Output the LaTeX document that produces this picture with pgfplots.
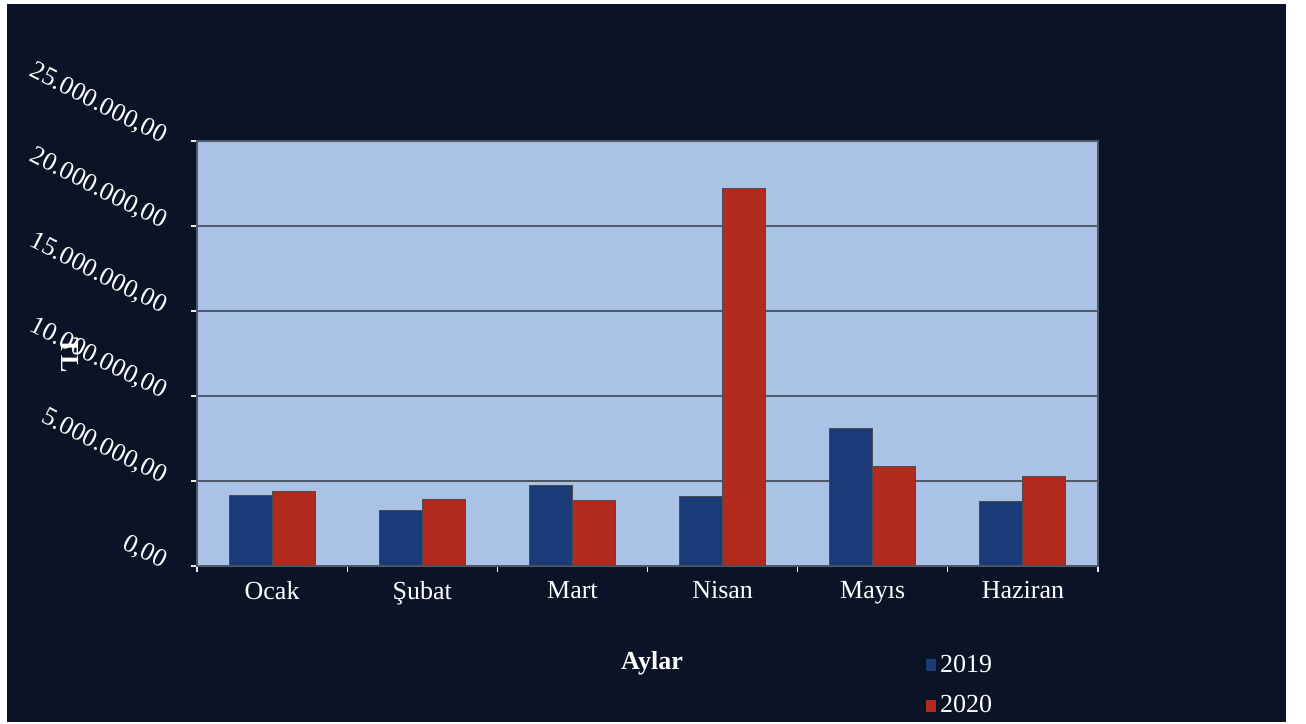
\documentclass[border=0pt]{standalone}
\usepackage{fontspec}
\setmainfont{Liberation Serif}
\usepackage{pgfplots}
\pgfplotsset{compat=1.18}
\definecolor{bgnavy}{HTML}{0B1426}
\definecolor{plotbg}{HTML}{A9C2E5}
\definecolor{bluebar}{HTML}{1B3A78}
\definecolor{redbar}{HTML}{B22A1E}
\definecolor{gridcol}{HTML}{4E5A6A}
\begin{document}
\begin{tikzpicture}
\fill[white] (-98.5pt,-78pt) rectangle (554.5pt,283pt);
\fill[bgnavy] (-95pt,-78pt) rectangle (544.5pt,281pt);
\begin{axis}[
  at={(0pt,0pt)}, anchor=south west,
  scale only axis, width=450.5pt, height=212.5pt,
  ybar=0pt, bar width=21.5pt,
  xmin=-0.5, xmax=5.5, ymin=0, ymax=25000000,
  axis background/.style={fill=plotbg},
  axis line style={gridcol, line width=0.6pt},
  xtick pos=bottom, ytick pos=left,
  xtick={0,1,2,3,4,5},
  xticklabels={Ocak,Şubat,Mart,Nisan,Mayıs,Haziran},
  major x tick style={draw=none},
  minor xtick={-0.5,0.5,1.5,2.5,3.5,4.5,5.5},
  minor x tick style={white!85!gray, line width=0.6pt},
  minor tick length=3pt,
  ytick={0,5000000,10000000,15000000,20000000,25000000},
  yticklabels={{0,00},{5.000.000,00},{10.000.000,00},{15.000.000,00},{20.000.000,00},{25.000.000,00}},
  scaled y ticks=false,
  major y tick style={white!85!gray, line width=0.6pt},
  major tick length=3pt,
  tick align=outside,
  ymajorgrids, grid style={gridcol, line width=0.6pt},
  every tick label/.append style={font=\fontsize{13}{15}\selectfont, text=white},
  yticklabel style={anchor=east, rotate=-27},
  yticklabel shift=10pt,
  xticklabel style={yshift=-1pt},
  xlabel={Aylar},
  every axis x label/.style={at={(rel axis cs:0.505,-0.23)}, anchor=center, font=\fontsize{13}{15}\selectfont\bfseries, text=white},
  ylabel={TL},
  every axis y label/.style={at={(rel axis cs:-0.141,0.496)}, rotate=-90, anchor=center, font=\fontsize{13}{15}\selectfont\bfseries, text=white},
  legend style={at={(rel axis cs:0.802,-0.19)}, anchor=north west, draw=none, fill=none, text=white, font=\fontsize{13}{15}\selectfont, row sep=6pt},
  legend cell align=left,
  legend image code/.code={\fill[#1, draw=none] (0pt,-3pt) rectangle (5pt,3pt);},
]
\addplot[fill=bluebar, draw=black!70, line width=0.5pt] coordinates {
  (0,4150000) (1,3240000) (2,4710000) (3,4080000) (4,8100000) (5,3780000)};
\addplot[fill=redbar, draw=black!70, line width=0.5pt] coordinates {
  (0,4410000) (1,3920000) (2,3860000) (3,22200000) (4,5880000) (5,5250000)};
\legend{2019,2020}
\end{axis}
\end{tikzpicture}
\end{document}
